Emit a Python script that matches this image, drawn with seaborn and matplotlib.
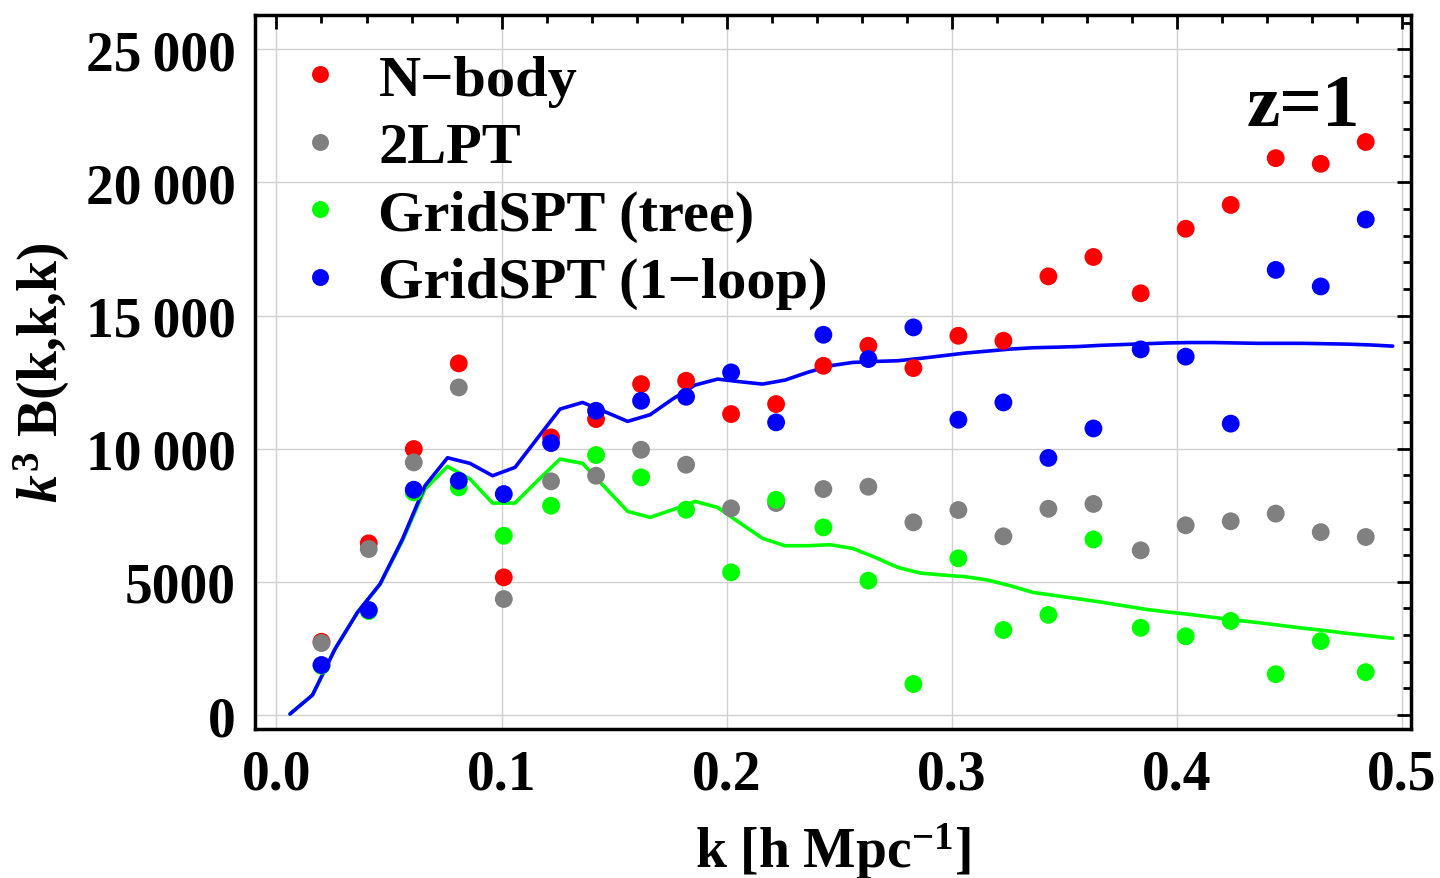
import numpy as np
import pandas as pd
import seaborn as sns
import matplotlib.pyplot as plt
from matplotlib.ticker import MultipleLocator, FuncFormatter

# --- data ---
k_points = [0.020, 0.041, 0.061, 0.081, 0.101, 0.122, 0.142, 0.162, 0.182, 0.202, 0.222, 0.243,
            0.263, 0.283, 0.303, 0.323, 0.343, 0.363, 0.384, 0.404, 0.424, 0.444, 0.464, 0.484]
nbody = [2750, 6445, 9986, 13202, 5168, 10424, 11112, 12425, 12550, 11300, 11675, 13113,
         13864, 13026, 14240, 14052, 16470, 17197, 15834, 18258, 19152, 20909, 20697, 21515]
lpt2 = [2703, 6232, 9485, 12300, 4355, 8773, 8984, 9959, 9397, 7759, 7958, 8484,
        8571, 7233, 7696, 6708, 7744, 7925, 6183, 7122, 7274, 7562, 6865, 6683]
grid_tree = [1850, 3900, 8360, 8547, 6731, 7857, 9760, 8923, 7707, 5357, 8082, 7044,
             5043, 1164, 5882, 3191, 3759, 6592, 3274, 2956, 3532, 1532, 2774, 1608]
grid_loop = [1877, 3942, 8459, 8796, 8296, 10211, 11423, 11798, 11949, 12865, 10988, 14277,
             13364, 14553, 11086, 11736, 9652, 10759, 13728, 13455, 10940, 16712, 16091, 18606]

k_line = [0.006, 0.016, 0.026, 0.036, 0.046, 0.056, 0.066, 0.076, 0.086, 0.096,
          0.106, 0.116, 0.126, 0.136, 0.146, 0.156, 0.166, 0.176, 0.186, 0.196,
          0.206, 0.216, 0.226, 0.236, 0.246, 0.256, 0.266, 0.276, 0.286, 0.296,
          0.306, 0.316, 0.326, 0.336, 0.346, 0.356, 0.366, 0.376, 0.386, 0.396,
          0.406, 0.416, 0.426, 0.436, 0.446, 0.456, 0.466, 0.476, 0.486, 0.496]
tree_line = [38, 751, 2478, 3855, 4900, 6550, 8484, 9334, 8859, 7958,
             7958, 8796, 9610, 9447, 8547, 7645, 7420, 7707, 8021, 7795,
             7208, 6632, 6356, 6356, 6394, 6256, 5919, 5544, 5331, 5256,
             5193, 5068, 4855, 4605, 4486, 4365, 4244, 4108, 3972, 3866,
             3775, 3669, 3563, 3472, 3366, 3260, 3169, 3063, 2972, 2881]
loop_line = [38, 751, 2478, 3855, 4918, 6607, 8608, 9659, 9447, 8984,
             9297, 10398, 11487, 11736, 11386, 11025, 11274, 11863, 12388, 12613,
             12513, 12425, 12576, 12865, 13113, 13238, 13276, 13301, 13389, 13489,
             13589, 13664, 13739, 13789, 13810, 13834, 13879, 13910, 13940, 13970,
             13985, 13985, 13970, 13955, 13955, 13955, 13940, 13925, 13895, 13850]

labels = ['N\u2212body', '2LPT', 'GridSPT (tree)', 'GridSPT (1\u2212loop)']
colors = ['#ff0000', '#808080', '#00ff00', '#0000ff']

points = pd.DataFrame({
    'k': k_points * 4,
    'B': nbody + lpt2 + grid_tree + grid_loop,
    'series': sum([[lab] * len(k_points) for lab in labels], []),
})
lines = pd.DataFrame({
    'k': k_line * 2,
    'B': tree_line + loop_line,
    'series': [labels[2]] * len(k_line) + [labels[3]] * len(k_line),
})

sns.set_theme(style='white')
plt.rcParams['font.family'] = ['Liberation Serif', 'DejaVu Serif']
plt.rcParams['font.weight'] = 'bold'
plt.rcParams['mathtext.fontset'] = 'custom'
plt.rcParams['mathtext.rm'] = 'Liberation Serif:bold'
plt.rcParams['mathtext.it'] = 'Liberation Serif:italic:bold'
plt.rcParams['mathtext.bf'] = 'Liberation Serif:bold'
plt.rcParams['text.color'] = 'black'
plt.rcParams['axes.labelcolor'] = 'black'
plt.rcParams['xtick.color'] = 'black'
plt.rcParams['ytick.color'] = 'black'

fig = plt.figure(figsize=(14.4, 8.79), dpi=100)
ax = fig.add_axes([0.177, 0.1695, 0.803, 0.8125])

pal = dict(zip(labels, colors))
sns.lineplot(data=lines, x='k', y='B', hue='series', palette=pal, lw=2.6,
             legend=False, ax=ax, sort=False)
sns.scatterplot(data=points, x='k', y='B', hue='series', palette=pal, s=165,
                edgecolor='none', linewidth=0, ax=ax, zorder=3)

ax.set_xlim(-0.0096, 0.5042)
ax.set_ylim(-526, 26290)
ax.xaxis.set_major_locator(MultipleLocator(0.1))
ax.xaxis.set_minor_locator(MultipleLocator(0.02))
ax.yaxis.set_major_locator(MultipleLocator(5000))
ax.yaxis.set_minor_locator(MultipleLocator(1000))
ax.xaxis.set_major_formatter(FuncFormatter(lambda v, p: f'{v:.1f}'))


def yfmt(v, p):
    n = int(round(v))
    if n >= 10000:
        return f'{n // 1000}\u2009{n % 1000:03d}'
    return str(n)


ax.yaxis.set_major_formatter(FuncFormatter(yfmt))
ax.grid(True, which='major', color='#d0d0d0', lw=1.0)
ax.tick_params(which='both', direction='in', top=True, right=True, width=2, color='black',
               labelcolor='black', labelsize=40)
ax.tick_params(which='major', length=10, pad=14)
ax.tick_params(which='minor', length=6)
for sp in ax.spines.values():
    sp.set_linewidth(2.5)
    sp.set_color('black')

ax.set_xlabel('k [h Mpc$^{-1}$]', fontsize=40, fontweight='bold', labelpad=14, color='black')
ax.set_ylabel('$k^3$ B(k,k,k)', fontsize=40, fontweight='bold', labelpad=10, color='black')

ax.text(0.956, 0.918, 'z=1', transform=ax.transAxes, fontsize=54, fontweight='bold',
        ha='right', va='top', color='black')

handles, labs = ax.get_legend_handles_labels()
leg = ax.legend(handles, labs, loc='upper left', bbox_to_anchor=(0.016, 0.978), frameon=False,
                fontsize=42, handlelength=0.8, handletextpad=0.6, labelspacing=0.25,
                markerscale=0.95, borderaxespad=0)
for t in leg.get_texts():
    t.set_color('black')

fig.savefig('out.png', dpi=100)
